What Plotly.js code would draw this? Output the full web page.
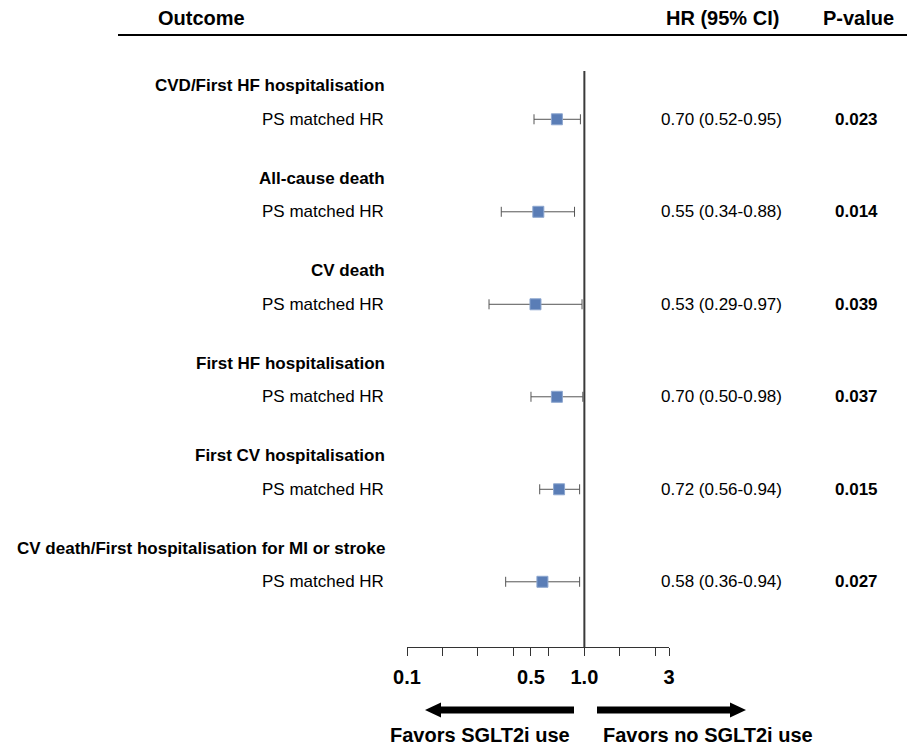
<!DOCTYPE html>
<html>
<head>
<meta charset="utf-8">
<script src="https://cdn.plot.ly/plotly-3.0.1.min.js"></script>
<style>html,body{margin:0;padding:0;background:#fff;}#chart{width:907px;height:745px;}</style>
</head>
<body>
<div id="chart"></div>
<script>
// ---- data ----
var outcomes = [
  "CVD/First HF hospitalisation",
  "All-cause death",
  "CV death",
  "First HF hospitalisation",
  "First CV hospitalisation",
  "CV death/First hospitalisation for MI or stroke"
];
var rowLabel = "PS matched HR";
var hr   = [0.70, 0.55, 0.53, 0.70, 0.72, 0.58];
var ciLo = [0.52, 0.34, 0.29, 0.50, 0.56, 0.36];
var ciHi = [0.95, 0.88, 0.97, 0.98, 0.94, 0.94];
var pvals = ["0.023", "0.014", "0.039", "0.037", "0.015", "0.027"];
var tickVals = [0.1, 0.1585, 0.2512, 0.3981, 0.5, 0.631, 1, 1.585, 2.512, 3];
var tickText = ["0.1", "", "", "", "0.5", "", "1.0", "", "", "3"];
var headers = ["Outcome", "HR (95% CI)", "P-value"];
var favorLabels = ["Favors SGLT2i use", "Favors no SGLT2i use"];

// ---- layout helpers (pixel -> paper) ----
var W = 907, H = 745;
var L = 407, R = 669, T = 71, B = 647;
function px(x){ return (x - L) / (R - L); }
function py(y){ return (B - y) / (B - T); }

var FONT = "Liberation Sans, Arial, Helvetica, sans-serif";
var rows = outcomes.map(function(_, i){ return i; });

var trace = {
  type: "scatter",
  mode: "markers",
  x: hr,
  y: rows,
  marker: {symbol: "square", size: 11, color: "#5A7DB6", line: {color: "#8DA6CF", width: 1}},
  error_x: {
    type: "data",
    symmetric: false,
    array: hr.map(function(v, i){ return ciHi[i] - v; }),
    arrayminus: hr.map(function(v, i){ return v - ciLo[i]; }),
    color: "#555555",
    thickness: 1,
    width: 5
  },
  hoverinfo: "skip",
  showlegend: false
};

var annotations = [];
outcomes.forEach(function(name, i){
  annotations.push({xref: "paper", yref: "y", x: px(387), y: i - 0.365, xanchor: "right", yanchor: "middle",
    text: "<b>" + name + "</b>", showarrow: false, font: {family: FONT, size: 17, color: "#000"}});
  annotations.push({xref: "paper", yref: "y", x: px(386), y: i, xanchor: "right", yanchor: "middle",
    text: rowLabel, showarrow: false, font: {family: FONT, size: 17, color: "#000"}});
  annotations.push({xref: "paper", yref: "y", x: px(721), y: i, xanchor: "center", yanchor: "middle",
    text: hr[i].toFixed(2) + " (" + ciLo[i].toFixed(2) + "-" + ciHi[i].toFixed(2) + ")",
    showarrow: false, font: {family: FONT, size: 17, color: "#000"}});
  annotations.push({xref: "paper", yref: "y", x: px(833), y: i, xanchor: "left", yanchor: "middle",
    text: "<b>" + pvals[i] + "</b>", showarrow: false, font: {family: FONT, size: 17, color: "#000"}});
});
var headerX = [201, 722, 858];
headers.forEach(function(h, k){
  annotations.push({xref: "paper", yref: "paper", x: px(headerX[k]), y: py(18), xanchor: "center", yanchor: "middle",
    text: "<b>" + h + "</b>", showarrow: false, font: {family: FONT, size: 20, color: "#000"}});
});
var favX = [480, 708];
favorLabels.forEach(function(h, k){
  annotations.push({xref: "paper", yref: "paper", x: px(favX[k]), y: py(735), xanchor: "center", yanchor: "middle",
    text: "<b>" + h + "</b>", showarrow: false, font: {family: FONT, size: 20, color: "#000"}});
});

function arrowPath(xTail, xTip, yc){
  var dir = xTip > xTail ? 1 : -1;
  var headLen = 16, shaftHalf = 3.5, headHalf = 7.5;
  var xb = xTip - dir * headLen;
  var pts = [[xTail, yc - shaftHalf], [xb, yc - shaftHalf], [xb, yc - headHalf], [xTip, yc],
             [xb, yc + headHalf], [xb, yc + shaftHalf], [xTail, yc + shaftHalf]];
  return "M" + pts.map(function(p){ return px(p[0]) + "," + py(p[1]); }).join(" L") + " Z";
}

var shapes = [
  {type: "line", xref: "x", yref: "paper", x0: 1, x1: 1, y0: 0, y1: 1, line: {color: "#3a3a3a", width: 2}},
  {type: "line", xref: "paper", yref: "paper", x0: px(118), x1: px(907), y0: py(35), y1: py(35), line: {color: "#000", width: 2}},
  {type: "path", xref: "paper", yref: "paper", path: arrowPath(574, 425, 710), fillcolor: "#000", line: {width: 0}},
  {type: "path", xref: "paper", yref: "paper", path: arrowPath(597, 746, 710), fillcolor: "#000", line: {width: 0}}
];

var layout = {
  width: W, height: H,
  margin: {l: L, r: W - R, t: T, b: H - B, pad: 0},
  paper_bgcolor: "#fff", plot_bgcolor: "#fff",
  showlegend: false,
  xaxis: {
    type: "log", range: [-1, Math.log10(3)],
    showgrid: false, zeroline: false,
    showline: true, linecolor: "#333", linewidth: 1,
    ticks: "outside", ticklen: 8, tickcolor: "#333", tickwidth: 1,
    tickmode: "array", tickvals: tickVals, ticktext: tickText,
    tickfont: {family: FONT, size: 20, color: "#000", weight: "bold"},
    ticklabelstandoff: 4,
    fixedrange: true
  },
  yaxis: {
    range: [5.705, -0.522],
    showgrid: false, zeroline: false, showline: false,
    showticklabels: false, ticks: "", fixedrange: true
  },
  annotations: annotations,
  shapes: shapes
};

Plotly.newPlot("chart", [trace], layout, {displayModeBar: false, staticPlot: true});
</script>
</body>
</html>
